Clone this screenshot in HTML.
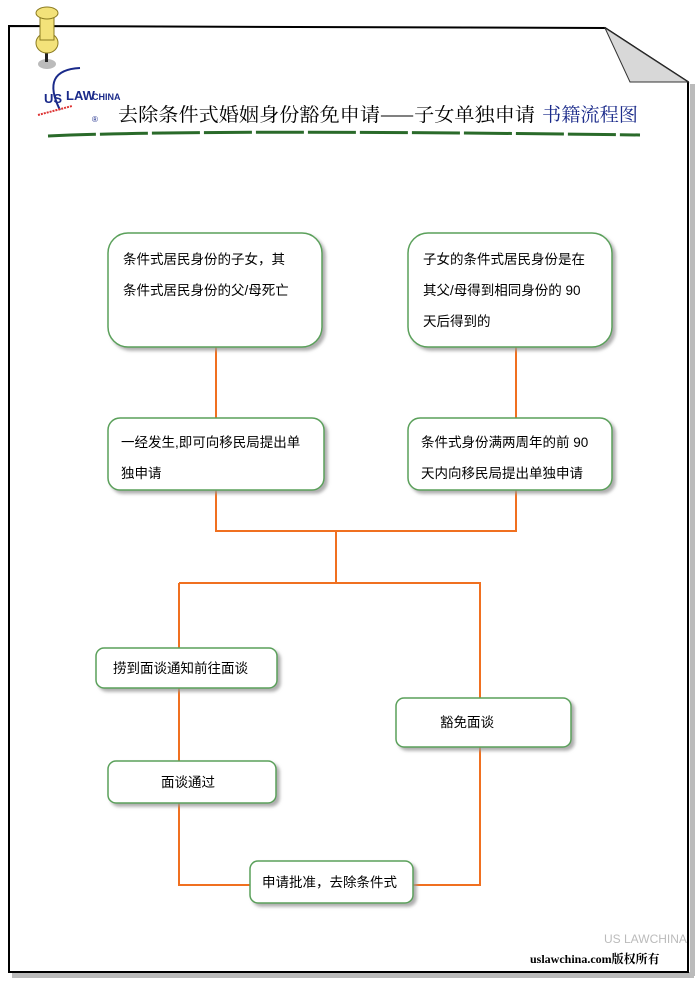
<!DOCTYPE html>
<html><head><meta charset="utf-8"><style>
body{margin:0;background:#fff;}
svg text{font-family:"Liberation Sans","Noto Sans CJK SC",sans-serif;}
</style></head><body>
<svg width="700" height="990" viewBox="0 0 700 990" xmlns="http://www.w3.org/2000/svg">
<defs>
<filter id="sh" x="-10%" y="-10%" width="130%" height="130%"><feDropShadow dx="3" dy="3" stdDeviation="1.5" flood-color="#999" flood-opacity="0.8"/></filter>
</defs>
<rect x="12" y="972" width="682" height="6" fill="#bbb"/>
<rect x="690" y="84" width="5" height="892" fill="#bbb"/>
<path d="M9 26 L605 28 L688 82 L688 972 L9 972 Z" fill="#fff" stroke="#000" stroke-width="2"/>
<path d="M605 28 L630 82 L688 82 Z" fill="#d8d8d8" stroke="#333" stroke-width="1"/>
<ellipse cx="47" cy="64" rx="9" ry="5" fill="#bbb"/>
<rect x="45" y="46" width="3" height="16" fill="#222"/>
<ellipse cx="47" cy="43" rx="11" ry="10" fill="#f3e27a" stroke="#8a7a20"/>
<rect x="40" y="18" width="14" height="22" fill="#f3e27a" stroke="#8a7a20"/>
<ellipse cx="47" cy="13" rx="11" ry="6" fill="#f3e27a" stroke="#8a7a20"/>
<text x="44" y="103" font-size="13" font-weight="bold" fill="#1a2a8a">US</text>
<text x="66" y="100" font-size="13" font-weight="bold" fill="#1a2a8a">LAW</text>
<text x="92" y="100" font-size="9" font-weight="bold" fill="#1a2a8a">CHINA</text>
<path d="M60 110 Q40 70 80 68" fill="none" stroke="#1a2a8a" stroke-width="2"/>
<path d="M38 115 L72 106" stroke="#d33" stroke-width="2" stroke-dasharray="2,1"/>
<text x="92" y="122" font-size="8" fill="#1a2a8a">®</text>
<text x="118" y="121" font-size="19" fill="#000" textLength="417" lengthAdjust="spacingAndGlyphs" style="font-family:'Noto Serif CJK SC',serif">去除条件式婚姻身份豁免申请——子女单独申请</text>
<text x="542" y="121" font-size="19" fill="#1a2a8a" textLength="96" lengthAdjust="spacingAndGlyphs" style="font-family:'Noto Serif CJK SC',serif">书籍流程图</text>
<path d="M48 136 Q200 129 640 135" stroke="#2a6a2a" stroke-width="3" stroke-dasharray="48,4" fill="none"/>
<g stroke="#f07020" stroke-width="2" fill="none">
<path d="M216 347V418M516 347V418M216 490V531H516V490M336 531V583M179 583H480V698M179 583V648M179 688V761M179 803V885H250M480 747V885H413"/>
</g>
<g fill="#fff" stroke="#5aa05a" stroke-width="1.5" filter="url(#sh)">
<rect x="108" y="233" width="214" height="114" rx="20"/>
<rect x="408" y="233" width="204" height="114" rx="20"/>
<rect x="108" y="418" width="216" height="72" rx="12"/>
<rect x="408" y="418" width="204" height="72" rx="12"/>
<rect x="96" y="648" width="181" height="40" rx="8"/>
<rect x="396" y="698" width="175" height="49" rx="8"/>
<rect x="108" y="761" width="168" height="42" rx="8"/>
<rect x="250" y="861" width="163" height="42" rx="8"/>
</g>
<g font-size="13.5" fill="#000">
<text x="123" y="264">条件式居民身份的子女，其</text>
<text x="123" y="295">条件式居民身份的父/母死亡</text>
<text x="423" y="264">子女的条件式居民身份是在</text>
<text x="423" y="295">其父/母得到相同身份的  90</text>
<text x="423" y="326">天后得到的</text>
<text x="121" y="447">一经发生,即可向移民局提出单</text>
<text x="121" y="478">独申请</text>
<text x="421" y="447">条件式身份满两周年的前  90</text>
<text x="421" y="478">天内向移民局提出单独申请</text>
<text x="113" y="673">捞到面谈通知前往面谈</text>
<text x="440" y="727">豁免面谈</text>
<text x="161" y="787">面谈通过</text>
<text x="262" y="887">申请批准，去除条件式</text>
</g>
<text x="604" y="943" font-size="12" fill="#bbb">US LAWCHINA</text>
<text x="530" y="963" font-size="12" font-weight="bold" fill="#000" style="font-family:'Liberation Serif','Noto Serif CJK SC',serif">uslawchina.com版权所有</text>
</svg>
</body></html>
